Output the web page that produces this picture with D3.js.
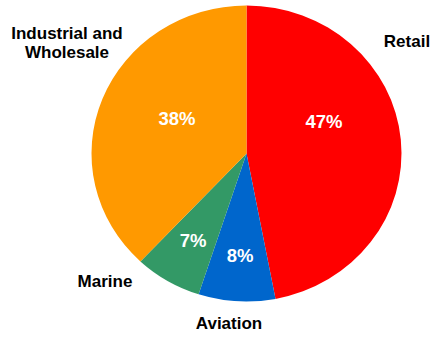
<!DOCTYPE html>
<html><head><meta charset="utf-8">
<script src="https://cdn.jsdelivr.net/npm/d3@7"></script>
<style>body{margin:0;background:#fff}svg{display:block}</style>
</head><body>
<script>
const categories = ["Retail", "Aviation", "Marine", "Industrial and Wholesale"];
const values = [47, 8, 7, 38];
const colors = ["#FF0000", "#0066CC", "#339966", "#FF9900"];
const pctLabels = ["47%", "8%", "7%", "38%"];

const W = 432, H = 337;
const cx = 246.5, cy = 153.5, rx = 155, ry = 148;
const svg = d3.select("body").append("svg").attr("width", W).attr("height", H);

const pie = d3.pie().value(d => d).sort(null);
const arcs = pie(values);
const arc = d3.arc().innerRadius(0).outerRadius(rx);

const g = svg.append("g").attr("transform", `translate(${cx},${cy}) scale(1,${ry/rx})`);
g.selectAll("path").data(arcs).enter().append("path")
  .attr("d", arc).attr("fill", (d, i) => colors[i]);

// percentage labels inside
const labelPos = [[324, 121], [240, 255], [193, 240], [177, 118]];
svg.selectAll("text.pct").data(arcs).enter().append("text")
  .attr("class", "pct")
  .attr("x", (d, i) => labelPos[i][0]).attr("y", (d, i) => labelPos[i][1])
  .attr("text-anchor", "middle").attr("dominant-baseline", "central")
  .attr("fill", "#fff").attr("font-family", "Liberation Sans, Arial, sans-serif")
  .attr("font-weight", "bold").attr("font-size", 18.5)
  .text((d, i) => pctLabels[i]);

// category labels outside
const ext = [
  {lines: ["Retail"], x: 407, y: 41},
  {lines: ["Aviation"], x: 229, y: 323},
  {lines: ["Marine"], x: 105, y: 281},
  {lines: ["Industrial and", "Wholesale"], x: 67, y: 33}
];
ext.forEach((e, i) => {
  const t = svg.append("text")
    .attr("text-anchor", "middle")
    .attr("font-family", "Liberation Sans, Arial, sans-serif")
    .attr("font-weight", "bold").attr("font-size", 17).attr("fill", "#000");
  e.lines.forEach((ln, j) => {
    t.append("tspan").attr("x", e.x).attr("y", e.y + j * 19)
      .attr("dominant-baseline", "central").text(j === 0 && e.lines.length === 1 ? categories[i] : ln);
  });
});
</script>
</body></html>
